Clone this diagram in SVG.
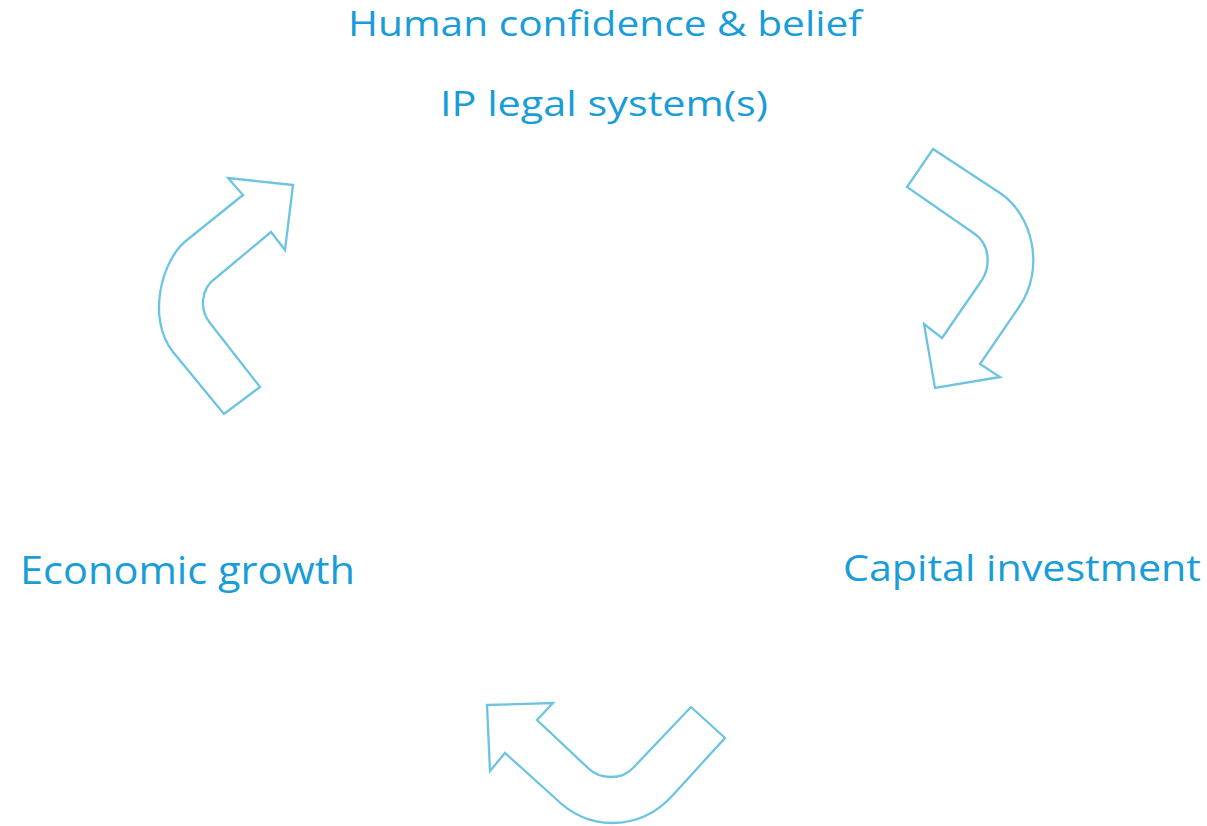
<svg xmlns="http://www.w3.org/2000/svg" width="1207" height="826" viewBox="0 0 1207 826">
<style>
.lbl{font-family:"Open Sans","Liberation Sans",sans-serif;fill:#199dd9;font-weight:500;}
.arr{fill:none;stroke:#6cc4e2;stroke-width:2.3;stroke-linejoin:miter;}
</style>
<rect width="1207" height="826" fill="#ffffff"/>
<g id="node-human"><text class="lbl" x="348" y="36" font-size="34" textLength="514" lengthAdjust="spacingAndGlyphs">Human confidence &amp; belief</text></g>
<g id="node-ip"><text class="lbl" x="440" y="116" font-size="34" textLength="328" lengthAdjust="spacingAndGlyphs">IP legal system(s)</text></g>
<g id="node-capital"><text class="lbl" x="843" y="581" font-size="37" textLength="358" lengthAdjust="spacingAndGlyphs">Capital investment</text></g>
<g id="node-economic"><text class="lbl" x="20" y="584" font-size="38" textLength="335" lengthAdjust="spacingAndGlyphs">Economic growth</text></g>
<g id="connectors">
<path class="arr" d="M293,185 L228,178 L243,195 L187,240 C162,259 146,318 173,352 L224,414 L260,387 L210,323 C201,312 198,290 217,277 L271,232 L285,250 Z"/>
<path class="arr" d="M933,149 L1000,193 C1032,214 1046,268 1019,307 L980,364 L1000,377 L935,388 L924,324 L942,338 L982,280 C989,269 993,245 972,232 L907,187 Z"/>
<path class="arr" d="M487,705 L553,703 L537,720 L588,768 C595,775 602,777 611,777 C620,777 626,775 633,768 L691,707 L725,738 L673,795 C655,815 635,823 612,823 C590,823 572,815 555,798 L505,753 L490,771 Z"/>
</g>
</svg>
